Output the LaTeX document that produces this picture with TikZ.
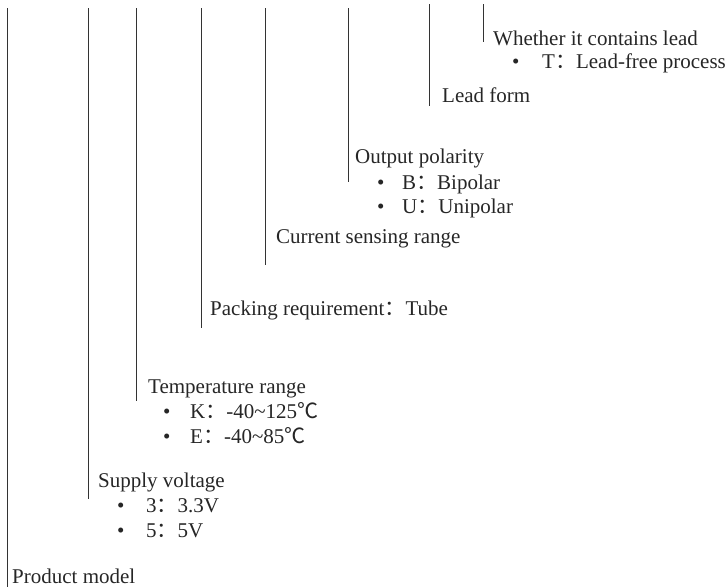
\documentclass[tikz,border=0pt]{standalone}
\usepackage{fontspec}
\setmainfont{Liberation Serif}
\newfontfamily\cjk{Noto Sans CJK SC}
\newcommand{\fwc}{{\cjk ：}}
\newcommand{\degc}{{\cjk ℃}}
\begin{document}
\begin{tikzpicture}[x=1pt,y=-1pt,
  lbl/.style={anchor=base west,inner sep=0pt,font=\fontsize{21}{25}\selectfont,text=black!85},
  vline/.style={draw=black!80,line width=1pt}]
\useasboundingbox (0,0) rectangle (728,587);
% vertical lines
\coordinate (t1) at (7.5,8);   \coordinate (b1) at (7.5,587);
\coordinate (t2) at (88,8);    \coordinate (b2) at (88,499);
\coordinate (t3) at (136.5,8); \coordinate (b3) at (136.5,401);
\coordinate (t4) at (201,8);   \coordinate (b4) at (201,328);
\coordinate (t5) at (265.5,8); \coordinate (b5) at (265.5,265);
\coordinate (t6) at (348,8);   \coordinate (b6) at (348,182);
\coordinate (t7) at (429,4);   \coordinate (b7) at (429,106);
\coordinate (t8) at (483,4);   \coordinate (b8) at (483,42);
\foreach \i in {1,...,8} \draw[vline] (t\i) -- (b\i);
% labels
\node[lbl] (lead) at (493,45) {Whether it contains lead};
\node[lbl] (leadb) at (512,68) {•};
\node[lbl] (leadt) at (542,68) {T\fwc Lead-free process};
\node[lbl] (form) at (442,102) {Lead form};
\node[lbl] (pol) at (355,163) {Output polarity};
\node[lbl] (polb1) at (377,189) {•};
\node[lbl] (polt1) at (402,189) {B\fwc Bipolar};
\node[lbl] (polb2) at (377,213) {•};
\node[lbl] (polt2) at (402,213) {U\fwc Unipolar};
\node[lbl] (cur) at (276,243) {Current sensing range};
\node[lbl] (pack) at (210,315) {Packing requirement\fwc Tube};
\node[lbl] (temp) at (148,393) {Temperature range};
\node[lbl] (tempb1) at (163,418) {•};
\node[lbl] (tempt1) at (190,418) {K\fwc -40\textasciitilde125\degc};
\node[lbl] (tempb2) at (163,443) {•};
\node[lbl] (tempt2) at (190,443) {E\fwc -40\textasciitilde85\degc};
\node[lbl] (sup) at (98,487) {Supply voltage};
\node[lbl] (supb1) at (117,512) {•};
\node[lbl] (supt1) at (146,512) {3\fwc 3.3V};
\node[lbl] (supb2) at (117,537) {•};
\node[lbl] (supt2) at (146,537) {5\fwc 5V};
\node[lbl] (prod) at (12,583) {Product model};
\end{tikzpicture}
\end{document}
